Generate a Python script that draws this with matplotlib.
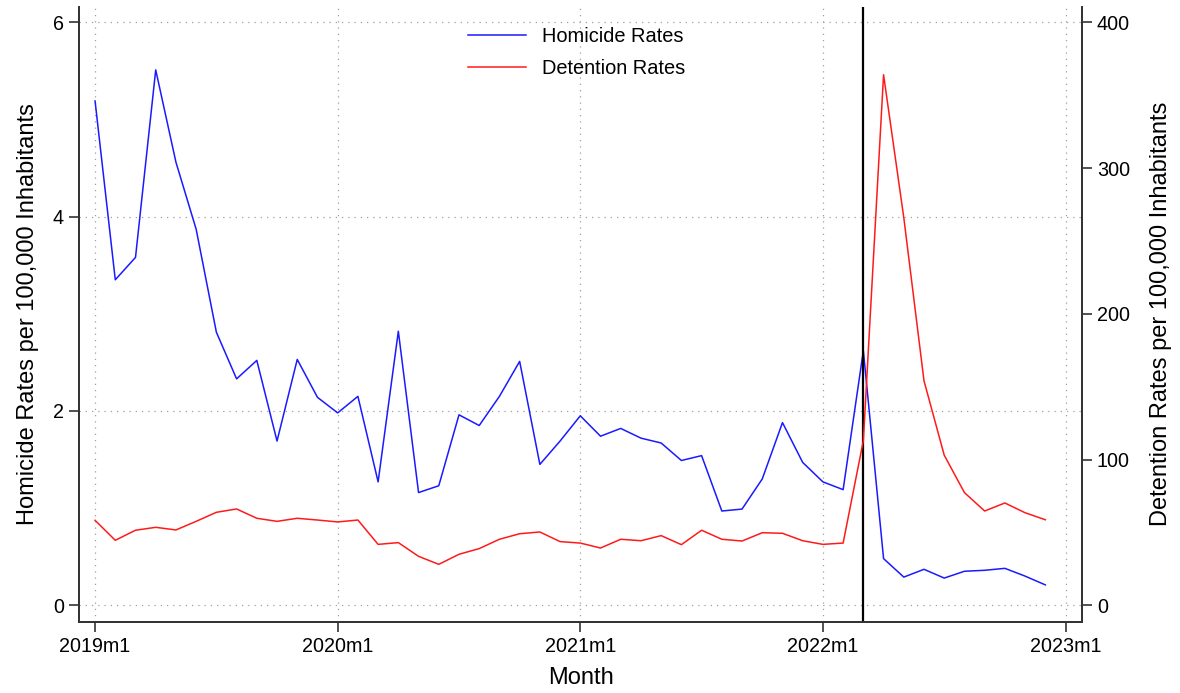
import matplotlib.pyplot as plt

plt.rcParams["font.family"] = ["Liberation Sans", "DejaVu Sans"]

# monthly series, 2019m1 .. 2022m12
homicide = [
    5.19, 3.35, 3.58, 5.51, 4.56, 3.87, 2.81, 2.33, 2.52, 1.69, 2.53, 2.14,
    1.98, 2.15, 1.27, 2.82, 1.16, 1.23, 1.96, 1.85, 2.15, 2.51, 1.45, 1.69,
    1.95, 1.74, 1.82, 1.72, 1.67, 1.49, 1.54, 0.97, 0.99, 1.30, 1.88, 1.47,
    1.27, 1.19, 2.62, 0.48, 0.29, 0.37, 0.28, 0.35, 0.36, 0.38, 0.30, 0.21,
]
detention = [
    58.3, 44.6, 51.5, 53.5, 51.7, 57.6, 63.8, 66.1, 59.7, 57.6, 59.7, 58.5,
    57.2, 58.5, 41.8, 43.0, 33.6, 28.1, 35.0, 38.9, 45.3, 49.1, 50.3, 43.7,
    42.7, 39.3, 45.3, 44.3, 47.8, 41.6, 51.5, 45.3, 44.1, 49.8, 49.4, 44.3,
    41.8, 42.7, 113.0, 364.0, 266.0, 154.0, 103.0, 77.3, 64.7, 70.2, 63.5, 58.7,
]
months = list(range(len(homicide)))
tick_pos = [0, 12, 24, 36, 48]
tick_labels = ["2019m1", "2020m1", "2021m1", "2022m1", "2023m1"]
event_month = 38  # 2022m3

fig = plt.figure(figsize=(11.8, 6.93), dpi=100)
ax = fig.add_axes([0.0672, 0.1029, 0.8495, 0.8874])
ax2 = ax.twinx()

l1, = ax.plot(months, homicide, color="#1a1aff", lw=1.1, label="Homicide Rates")
l2, = ax2.plot(months, detention, color="#ff1a1a", lw=1.1, label="Detention Rates")
ax.axvline(event_month, color="black", lw=1.6)

ax.set_xlim(-0.78, 48.8)
ax.set_ylim(-0.169, 6.16)
ax2.set_ylim(-11.25, 410.7)

ax.set_xticks(tick_pos)
ax.set_xticklabels(tick_labels)
ax.set_yticks([0, 2, 4, 6])
ax2.set_yticks([0, 100, 200, 300, 400])

ax.grid(True, linestyle=(0, (1, 4)), color="#a0a0a0", lw=0.9)

for a in (ax, ax2):
    a.spines["top"].set_visible(False)
    for s in ("left", "right", "bottom"):
        a.spines[s].set_color("#333333")
        a.spines[s].set_linewidth(1.3)
    a.tick_params(length=7, width=1.2, color="#333333", labelsize=14.2, pad=4)

ax.set_xlabel("Month", fontsize=17, labelpad=8)
ax.set_ylabel("Homicide Rates per 100,000 Inhabitants", fontsize=17, labelpad=10)
ax2.set_ylabel("Detention Rates per 100,000 Inhabitants", fontsize=17, labelpad=14)

ax.legend(handles=[l1, l2], loc="upper center", bbox_to_anchor=(0.496, 1.0),
          frameon=False, fontsize=14.4, handlelength=2.9, handletextpad=0.8,
          labelspacing=0.68, borderaxespad=0.6)

fig.savefig("out.png", dpi=100)
